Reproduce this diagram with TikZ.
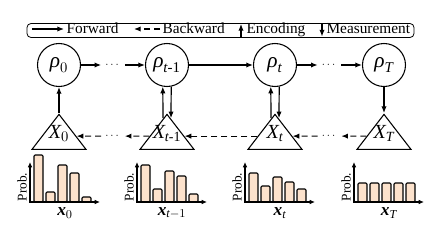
\documentclass[tikz,border=0pt]{standalone}
\usepackage{amsmath}
\usepackage{fontspec}
\setmainfont{Liberation Serif}
\usetikzlibrary{arrows.meta,calc,shapes.geometric}
\definecolor{barfill}{RGB}{252,226,204}

\begin{document}
\begin{tikzpicture}[x=0.75pt,y=0.75pt,
		every node/.style={font=\fontsize{11.5pt}{13pt}\selectfont},
		fwd/.style={-{Latex[length=5pt,width=4pt]},line width=0.9pt},
		bwd/.style={fwd,dash pattern=on 4.5pt off 3pt},
		state/.style={draw,circle,line width=0.8pt,minimum size=32.25pt,inner sep=0pt,font=\fontsize{16pt}{18pt}\selectfont},
		meas/.style={draw,isosceles triangle,shape border rotate=90,isosceles triangle stretches,minimum width=40.5pt,minimum height=26.25pt,inner sep=0pt,line width=0.8pt,anchor=apex},
		tlab/.style={inner sep=0pt,font=\fontsize{15pt}{18pt}\selectfont},
		gap/.style={inner sep=3pt,font=\fontsize{8pt}{10pt}\selectfont},
		bar/.style={draw,fill=barfill,line width=0.8pt,rounded corners=0.8pt},
		axes/.style={{Latex[length=4pt,width=3.5pt]}-{Latex[length=4pt,width=3.5pt]},line width=0.9pt},
		prob/.style={rotate=90,font=\fontsize{10pt}{12pt}\selectfont},
		xlab/.style={font=\fontsize{13pt}{15pt}\selectfont}]
		
		\useasboundingbox (0,0) rectangle (444,226);
		
		% legend
		\node (legend) [draw,rounded corners=3pt,line width=0.6pt,minimum width=290.25pt,minimum height=10.5pt,inner sep=0pt] at (220.5,195.5) {};
		\coordinate (fwA) at (32,197);
		\coordinate (fwB) at (64,197);
		\coordinate (bwA) at (160,197);
		\coordinate (bwB) at (134,197);
		\coordinate (enA) at (241,189.5);
		\coordinate (enB) at (241,202);
		\coordinate (meA) at (322,202);
		\coordinate (meB) at (322,189.5);
		\draw [fwd] (fwA) -- (fwB);
		\draw [bwd] (bwA) -- (bwB);
		\draw [fwd] (enA) -- (enB);
		\draw [fwd] (meA) -- (meB);
		\node (lfwd) [anchor=base west,inner sep=1pt] at (65,192.5) {Forward};
		\node (lbwd) [anchor=base west,inner sep=1pt] at (161,192.5) {Backward};
		\node (lenc) [anchor=base west,inner sep=1pt] at (245,192.5) {Encoding};
		\node (lmea) [anchor=base west,inner sep=1pt] at (325,192.5) {Measurement};
		
		% states
		\node (rho0) [state] at (59,161) {$\textit{ρ}_0$};
		\node (rhot1) [state] at (167,161) {$\textit{ρ}_{\textit{t}\text{-1}}$};
		\node (rhot) [state] at (275,161) {$\textit{ρ}_{\textit{t}}$};
		\node (rhoT) [state] at (384,161) {$\textit{ρ}_{\textit{T}}$};
		
		% measurements
		\node (X0) [meas] at (59,113) {};
		\node (Xt1) [meas] at (167,113) {};
		\node (Xt) [meas] at (275,113) {};
		\node (XT) [meas] at (384,113) {};
		\node (X0l) [tlab] at ($(X0.apex)!0.56!(X0.lower side)$) {$\textit{X}_0$};
		\node (Xt1l) [tlab] at ($(Xt1.apex)!0.56!(Xt1.lower side)$) {$\textit{X}_{\textit{t}\text{-1}}$};
		\node (Xtl) [tlab] at ($(Xt.apex)!0.56!(Xt.lower side)$) {$\textit{X}_{\textit{t}}$};
		\node (XTl) [tlab] at ($(XT.apex)!0.56!(XT.lower side)$) {$\textit{X}_{\textit{T}}$};
		
		\node (dF1) [gap] at ($(rho0)!0.5!(rhot1)$) {$\cdots$};
		\node (dF2) [gap] at ($(rhot)!0.5!(rhoT)$) {$\cdots$};
		\node (dB1) [gap] at ($(X0)!0.5!(Xt1)$) {$\cdots$};
		\node (dB2) [gap] at ($(Xt)!0.5!(XT)$) {$\cdots$};
		
		\draw [fwd] (rho0) -- (dF1);
		\draw [fwd] (dF1) -- (rhot1);
		\draw [fwd] (rhot1) -- (rhot);
		\draw [fwd] (rhot) -- (dF2);
		\draw [fwd] (dF2) -- (rhoT);
		
		\draw [bwd] (XT) -- (dB2);
		\draw [bwd] (dB2) -- (Xt);
		\draw [bwd] (Xt) -- (Xt1);
		\draw [bwd] (Xt1) -- (dB1);
		\draw [bwd] (dB1) -- (X0);
		
		\draw [fwd] (X0.apex) -- (rho0);
		\draw [fwd] ([xshift=-3pt,yshift=-3.9pt]Xt1.apex) -- (rhot1.259);
		\draw [fwd] (rhot1.281) -- ([xshift=3pt,yshift=-3.9pt]Xt1.apex);
		\draw [fwd] ([xshift=-3pt,yshift=-3.9pt]Xt.apex) -- (rhot.259);
		\draw [fwd] (rhot.281) -- ([xshift=3pt,yshift=-3.9pt]Xt.apex);
		\draw [fwd] (rhoT) -- (XT.apex);
		
		% distributions
		\draw [bar] (34,24) rectangle (43,71);
		\draw [bar] (46,24) rectangle (55,34);
		\draw [bar] (58,24) rectangle (67,61);
		\draw [bar] (70,24) rectangle (79,53);
		\draw [bar] (82,24) rectangle (91,29);
		\draw [axes] (30,64) -- (30,24) -- (100,24);
		\node (p0) [prob] at (22,39) {Prob.};
		\node (l0) [xlab] at (65,13) {$\textbf{\textit{x}}_0$};
		
		\draw [bar] (141,24) rectangle (150,61);
		\draw [bar] (153,24) rectangle (162,37);
		\draw [bar] (165,24) rectangle (174,55);
		\draw [bar] (177,24) rectangle (186,50);
		\draw [bar] (189,24) rectangle (198,32);
		\draw [axes] (137,64) -- (137,24) -- (207,24);
		\node (p1) [prob] at (129,39) {Prob.};
		\node (l1) [xlab] at (172,13) {$\textbf{\textit{x}}_{\textit{t}-1}$};
		
		\draw [bar] (249,24) rectangle (258,53);
		\draw [bar] (261,24) rectangle (270,40);
		\draw [bar] (273,24) rectangle (282,49);
		\draw [bar] (285,24) rectangle (294,44);
		\draw [bar] (297,24) rectangle (306,37);
		\draw [axes] (245,64) -- (245,24) -- (315,24);
		\node (p2) [prob] at (237,39) {Prob.};
		\node (l2) [xlab] at (280,13) {$\textbf{\textit{x}}_{\textit{t}}$};
		
		\draw [bar] (358,24) rectangle (367,43);
		\draw [bar] (370,24) rectangle (379,43);
		\draw [bar] (382,24) rectangle (391,43);
		\draw [bar] (394,24) rectangle (403,43);
		\draw [bar] (406,24) rectangle (415,43);
		\draw [axes] (354,64) -- (354,24) -- (424,24);
		\node (p3) [prob] at (346,39) {Prob.};
		\node (l3) [xlab] at (389,13) {$\textbf{\textit{x}}_{\textit{T}}$};
		
	\end{tikzpicture}
\end{document}
